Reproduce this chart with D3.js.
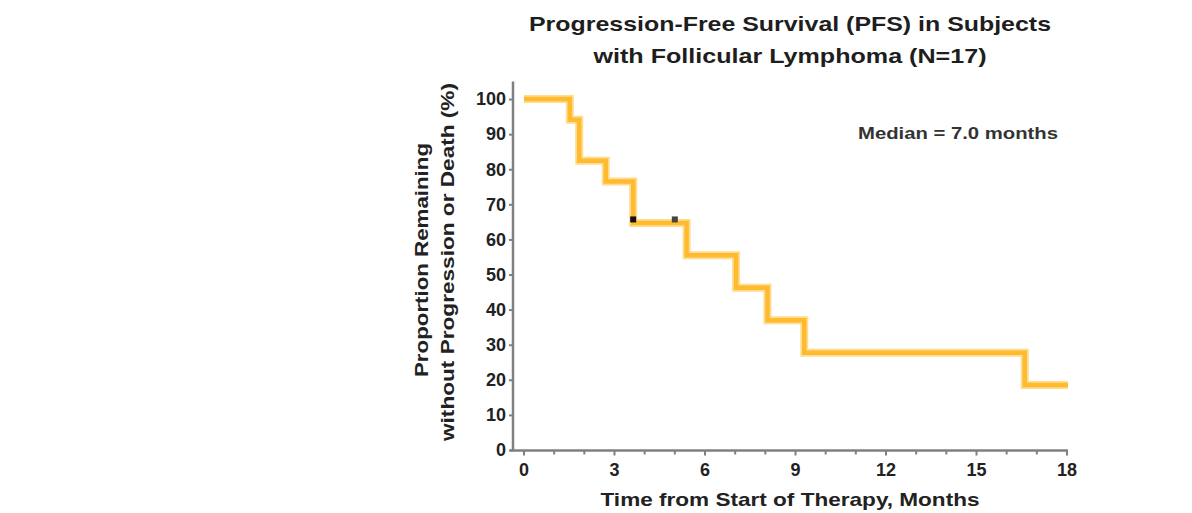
<!DOCTYPE html>
<html>
<head>
<meta charset="utf-8">
<script src="https://cdn.jsdelivr.net/npm/d3@7"></script>
<style>
  body { margin: 0; background: #fff; }
  svg text { font-family: "Liberation Sans", Arial, sans-serif; font-weight: bold; }
</style>
</head>
<body>
<svg id="chart" width="1192" height="513"></svg>
<script>
// step times (months) and survival (%)
var times = [0, 1.52, 1.83, 2.71, 3.62, 5.39, 7.03, 8.07, 9.29, 16.6, 18.03];
var survival = [100, 94.1, 82.4, 76.5, 64.7, 55.5, 46.2, 37.0, 27.7, 18.5, 18.5];
var censorTimes = [3.62, 5.0];
var censorValues = [64.7, 64.7];
var xTicks = [0, 3, 6, 9, 12, 15, 18];
var xMinor = d3.range(0, 19, 1);
var yTicks = [0, 10, 20, 30, 40, 50, 60, 70, 80, 90, 100];

var svg = d3.select("#chart");

var x = d3.scaleLinear().domain([0, 18]).range([524, 1067]);
var y = d3.scaleLinear().domain([0, 105]).range([450, 81.5]);

var axisColor = "#808080";

// axis lines
svg.append("line")
    .attr("x1", 513).attr("x2", 513)
    .attr("y1", y(105)).attr("y2", 451)
    .attr("stroke", axisColor).attr("stroke-width", 2.5);
svg.append("line")
    .attr("x1", 510).attr("x2", 1068)
    .attr("y1", 450.5).attr("y2", 450.5)
    .attr("stroke", axisColor).attr("stroke-width", 2.5);

// y axis ticks + labels
var yAxis = d3.axisLeft(y).tickValues(yTicks).tickSize(4).tickPadding(3);
var gy = svg.append("g").attr("transform", "translate(513,0)").call(yAxis);
gy.select(".domain").remove();
gy.selectAll(".tick line").attr("stroke", axisColor).attr("stroke-width", 2);
gy.selectAll(".tick text")
    .attr("fill", "#222")
    .style("font-size", "18px");

// x axis: monthly minor ticks, labels every 3
svg.append("g").selectAll("line")
    .data(xMinor)
    .enter().append("line")
    .attr("x1", function(d) { return x(d); })
    .attr("x2", function(d) { return x(d); })
    .attr("y1", 451).attr("y2", function(d) { return d % 3 == 0 ? 455.5 : 454.5; })
    .attr("stroke", axisColor).attr("stroke-width", 2);

svg.append("g").selectAll("text")
    .data(xTicks)
    .enter().append("text")
    .attr("x", function(d) { return x(d); })
    .attr("y", 476)
    .attr("text-anchor", "middle")
    .attr("fill", "#222")
    .style("font-size", "18px")
    .text(function(d) { return d; });

// KM curve
var pts = times.map(function(t, i) { return [t, survival[i]]; });
var line = d3.line()
    .x(function(d) { return x(d[0]); })
    .y(function(d) { return y(d[1]); })
    .curve(d3.curveStepAfter);

svg.append("path")
    .attr("d", line(pts))
    .attr("fill", "none")
    .attr("stroke", "#ffdc90")
    .attr("stroke-width", 8);
svg.append("path")
    .attr("d", line(pts))
    .attr("fill", "none")
    .attr("stroke", "#febb2f")
    .attr("stroke-width", 4.5);

// censor marks
svg.append("g").selectAll("rect")
    .data(censorTimes)
    .enter().append("rect")
    .attr("x", function(d) { return x(d) - 3; })
    .attr("y", function(d, i) { return y(censorValues[i]) - 6.5; })
    .attr("width", 6).attr("height", 6)
    .attr("fill", function(d, i) { return i == 0 ? "#111" : "#444"; });

// texts
var title = svg.append("text")
    .attr("text-anchor", "middle")
    .attr("fill", "#1e1e1e")
    .style("font-size", "21px");
title.append("tspan").attr("x", 790).attr("y", 31)
    .attr("textLength", 522).attr("lengthAdjust", "spacingAndGlyphs")
    .text("Progression-Free Survival (PFS) in Subjects");
title.append("tspan").attr("x", 790).attr("y", 63)
    .attr("textLength", 393).attr("lengthAdjust", "spacingAndGlyphs")
    .text("with Follicular Lymphoma (N=17)");

svg.append("text")
    .attr("x", 1058).attr("y", 139)
    .attr("text-anchor", "end")
    .attr("fill", "#333")
    .style("font-size", "16px")
    .attr("textLength", 200).attr("lengthAdjust", "spacingAndGlyphs")
    .text("Median = 7.0 months");

svg.append("text")
    .attr("x", 790).attr("y", 506)
    .attr("text-anchor", "middle")
    .attr("fill", "#222")
    .style("font-size", "19px")
    .attr("textLength", 379).attr("lengthAdjust", "spacingAndGlyphs")
    .text("Time from Start of Therapy, Months");

svg.append("text")
    .attr("transform", "translate(428,260) rotate(-90)")
    .attr("text-anchor", "middle")
    .attr("fill", "#222")
    .style("font-size", "18px")
    .attr("textLength", 234).attr("lengthAdjust", "spacingAndGlyphs")
    .text("Proportion Remaining");
svg.append("text")
    .attr("transform", "translate(454,262) rotate(-90)")
    .attr("text-anchor", "middle")
    .attr("fill", "#222")
    .style("font-size", "18px")
    .attr("textLength", 358).attr("lengthAdjust", "spacingAndGlyphs")
    .text("without Progression or Death (%)");
</script>
</body>
</html>
